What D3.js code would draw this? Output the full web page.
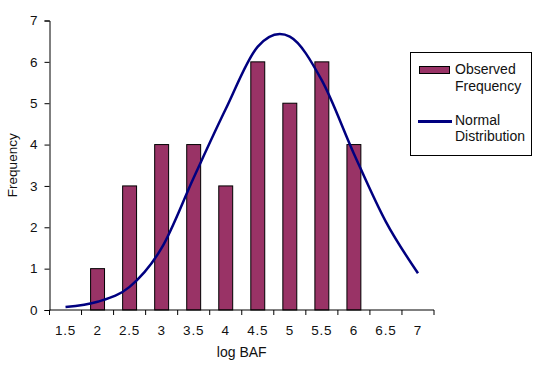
<!DOCTYPE html>
<html lang="en">
<head>
    <meta charset="UTF-8">
    <title>log BAF frequency</title>
    <script src="https://d3js.org/d3.v7.min.js"></script>
    <style>
        body { margin: 0; background: #fff; font-family: "Liberation Sans", Arial, sans-serif; }
        svg text { fill: #111; }
    </style>
</head>
<body>
<div id="chart"></div>
<script>
    // data
    const categories = ["1.5", "2", "2.5", "3", "3.5", "4", "4.5", "5", "5.5", "6", "6.5", "7"];
    const observed = [0, 1, 3, 4, 4, 3, 6, 5, 6, 4, 0, 0];
    const normal = [0.07, 0.2, 0.56, 1.5, 3.2, 4.86, 6.37, 6.61, 5.55, 3.78, 2.13, 0.89];
    const yTicks = [0, 1, 2, 3, 4, 5, 6, 7];

    const width = 536, height = 372;
    const margin = {left: 49.5, right: 102, top: 20.5, bottom: 62};

    const svg = d3.select("#chart").append("svg")
        .attr("width", width).attr("height", height);

    const x = d3.scaleBand().domain(categories)
        .range([margin.left, width - margin.right]).padding(0);
    const y = d3.scaleLinear().domain([0, 7])
        .range([height - margin.bottom, margin.top]);

    const barW = x.bandwidth() / 2.3;

    // bars
    svg.selectAll(".bar")
        .data(observed.map((v, i) => ({c: categories[i], v})).filter(d => d.v > 0))
        .enter().append("rect")
        .attr("class", "bar")
        .attr("x", d => x(d.c) + (x.bandwidth() - barW) / 2)
        .attr("y", d => y(d.v))
        .attr("width", barW)
        .attr("height", d => y(0) - y(d.v))
        .attr("fill", "#993366")
        .attr("stroke", "#000")
        .attr("stroke-width", 1);

    // smoothed normal curve
    const line = d3.line()
        .x((d, i) => x(categories[i]) + x.bandwidth() / 2)
        .y(d => y(d))
        .curve(d3.curveCardinal.tension(0));

    svg.append("path")
        .datum(normal)
        .attr("d", line)
        .attr("fill", "none")
        .attr("stroke", "#000080")
        .attr("stroke-width", 2.5);

    // y axis
    const yAxis = svg.append("g")
        .attr("transform", `translate(${margin.left},0)`)
        .call(d3.axisLeft(y).tickValues(yTicks).tickFormat(d3.format("d")).tickSize(5).tickPadding(7));
    yAxis.selectAll("text").style("font-size", "13.5px").style("font-family", "Liberation Sans, Arial");
    yAxis.select(".domain").attr("stroke", "#000");

    // x axis: ticks on category boundaries
    const xAxisG = svg.append("g")
        .attr("transform", `translate(0,${y(0)})`);
    xAxisG.append("line")
        .attr("x1", margin.left).attr("x2", width - margin.right)
        .attr("stroke", "#000");
    const bounds = categories.map(c => x(c)).concat([x(categories[categories.length - 1]) + x.bandwidth()]);
    xAxisG.selectAll(".tick")
        .data(bounds)
        .enter().append("line")
        .attr("x1", d => d).attr("x2", d => d)
        .attr("y1", 0).attr("y2", 5)
        .attr("stroke", "#000");
    xAxisG.selectAll(".lbl")
        .data(categories)
        .enter().append("text")
        .attr("x", d => x(d) + x.bandwidth() / 2)
        .attr("y", 25)
        .attr("text-anchor", "middle")
        .style("font-size", "13.5px")
        .style("letter-spacing", "0.8px")
        .text(d => d);

    // axis titles
    svg.append("text")
        .attr("x", (margin.left + width - margin.right) / 2)
        .attr("y", 357)
        .attr("text-anchor", "middle")
        .style("font-size", "14px")
        .text("log BAF");
    svg.append("text")
        .attr("transform", `translate(17,${(y(0) + y(7)) / 2}) rotate(-90)`)
        .attr("text-anchor", "middle")
        .style("font-size", "13.5px")
        .text("Frequency");

    // legend
    const lg = svg.append("g");
    lg.append("rect")
        .attr("x", 410.5).attr("y", 52.5).attr("width", 121).attr("height", 103)
        .attr("fill", "#fff").attr("stroke", "#000");
    lg.append("rect")
        .attr("x", 419.5).attr("y", 66.5).attr("width", 30).attr("height", 7)
        .attr("fill", "#993366").attr("stroke", "#000");
    lg.append("text").attr("x", 455).attr("y", 74).style("font-size", "14px").text("Observed");
    lg.append("text").attr("x", 455).attr("y", 91).style("font-size", "14px").text("Frequency");
    lg.append("line")
        .attr("x1", 418).attr("x2", 452).attr("y1", 121.5).attr("y2", 121.5)
        .attr("stroke", "#000080").attr("stroke-width", 3);
    lg.append("text").attr("x", 455).attr("y", 125).style("font-size", "14px").text("Normal");
    lg.append("text").attr("x", 455).attr("y", 141).style("font-size", "14px").text("Distribution");
</script>
</body>
</html>
